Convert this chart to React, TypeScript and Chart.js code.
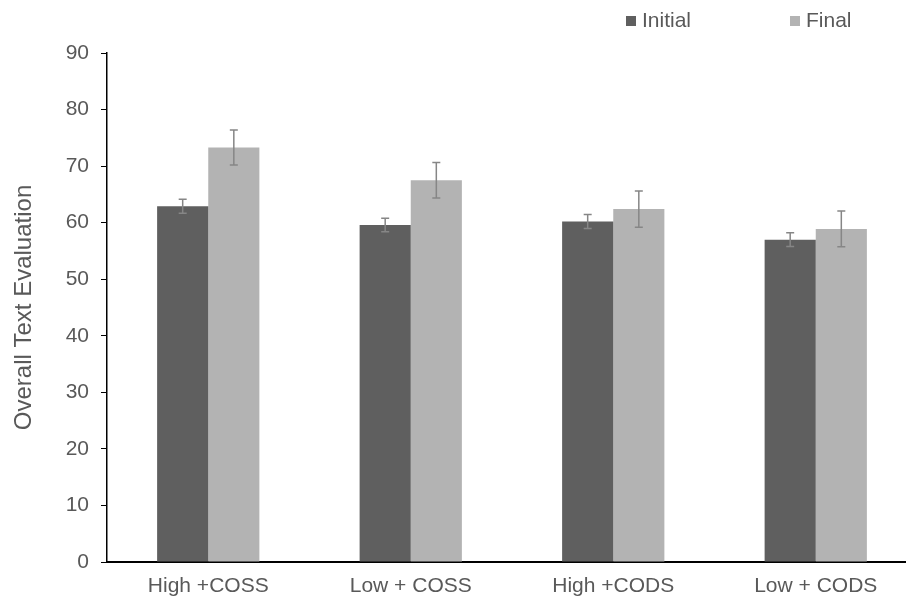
import React, { useEffect, useRef } from "react";
import { Chart, registerables } from "chart.js";

Chart.register(...registerables);

const categories = ["High +COSS", "Low + COSS", "High +CODS", "Low + CODS"];
const seriesNames = ["Initial", "Final"];
const initialValues = [62.9, 59.6, 60.2, 57.0];
const finalValues = [73.3, 67.5, 62.4, 58.9];
const initialErrors = [1.25, 1.2, 1.25, 1.2];
const finalErrors = [3.1, 3.15, 3.2, 3.15];
const yTickMin = 0;
const yTickMax = 90;
const yTickStep = 10;
const yTitle = "Overall Text Evaluation";

const FONT = "'Liberation Sans', Arial, sans-serif";
const TEXT = "#595959";
const COLORS = ["#5f5f5f", "#b3b3b3"];

const errorBarPlugin = {
  id: "errorBars",
  afterDatasetsDraw(chart: any) {
    const { ctx } = chart;
    const y = chart.scales.y;
    chart.data.datasets.forEach((ds: any, di: number) => {
      const meta = chart.getDatasetMeta(di);
      const errs: number[] = ds.errors || [];
      meta.data.forEach((bar: any, i: number) => {
        const v = ds.data[i];
        const e = errs[i];
        if (e == null) return;
        const top = y.getPixelForValue(v + e);
        const bot = y.getPixelForValue(v - e);
        const x = bar.x;
        ctx.save();
        ctx.strokeStyle = "#868686";
        ctx.lineWidth = 1.5;
        ctx.beginPath();
        ctx.moveTo(x, top);
        ctx.lineTo(x, bot);
        ctx.moveTo(x - 4, top);
        ctx.lineTo(x + 4, top);
        ctx.moveTo(x - 4, bot);
        ctx.lineTo(x + 4, bot);
        ctx.stroke();
        ctx.restore();
      });
    });
  },
};

const legendPlugin = {
  id: "customLegend",
  afterDraw(chart: any) {
    const { ctx } = chart;
    const starts = [626, 790];
    ctx.save();
    ctx.font = `21px ${FONT}`;
    ctx.textBaseline = "middle";
    ctx.textAlign = "left";
    chart.data.datasets.forEach((ds: any, i: number) => {
      const x = starts[i];
      ctx.fillStyle = ds.backgroundColor;
      ctx.fillRect(x, 16, 10, 10);
      ctx.fillStyle = TEXT;
      ctx.fillText(ds.label, x + 16, 21);
    });
    ctx.restore();
  },
};

export default function App() {
  const ref = useRef<HTMLCanvasElement | null>(null);

  useEffect(() => {
    if (!ref.current) return;
    const chart = new Chart(ref.current, {
      type: "bar",
      data: {
        labels: categories,
        datasets: [
          {
            label: seriesNames[0],
            data: initialValues,
            backgroundColor: COLORS[0],
            errors: initialErrors,
          } as any,
          {
            label: seriesNames[1],
            data: finalValues,
            backgroundColor: COLORS[1],
            errors: finalErrors,
          } as any,
        ],
      },
      options: {
        responsive: false,
        animation: false,
        devicePixelRatio: 1,
        layout: { padding: { top: 53, right: 1, left: 0, bottom: 0 } },
        datasets: {
          bar: { categoryPercentage: 0.505, barPercentage: 1 },
        },
        plugins: {
          legend: { display: false },
          tooltip: { enabled: false },
        },
        scales: {
          x: {
            afterFit(scale: any) {
              scale.height = 37;
            },
            grid: { display: false, drawTicks: false },
            border: { display: true, color: "#000", width: 2 },
            ticks: {
              color: TEXT,
              font: { family: FONT, size: 21 },
              padding: 12,
              maxRotation: 0,
              autoSkip: false,
            },
          },
          y: {
            min: yTickMin,
            max: yTickMax,
            afterFit(scale: any) {
              scale.width = 107;
            },
            grid: {
              display: true,
              drawOnChartArea: false,
              drawTicks: true,
              tickLength: 6,
              color: "#000",
              lineWidth: 1,
            },
            border: { display: true, color: "#000", width: 1.5 },
            ticks: {
              stepSize: yTickStep,
              color: TEXT,
              font: { family: FONT, size: 21 },
              padding: 12,
            },
            title: {
              display: true,
              text: yTitle,
              color: TEXT,
              font: { family: FONT, size: 24, weight: "normal" },
              padding: { top: 10, bottom: 0 },
            },
          },
        },
      } as any,
      plugins: [errorBarPlugin, legendPlugin],
    });
    return () => chart.destroy();
  }, []);

  return (
    <div
      style={{
        position: "absolute",
        left: 0,
        top: 0,
        width: 906,
        height: 599,
        overflow: "hidden",
        background: "#fff",
      }}
    >
      <canvas
        ref={ref}
        width={918}
        height={599}
        style={{ width: 918, height: 599, display: "block" }}
      />
    </div>
  );
}
